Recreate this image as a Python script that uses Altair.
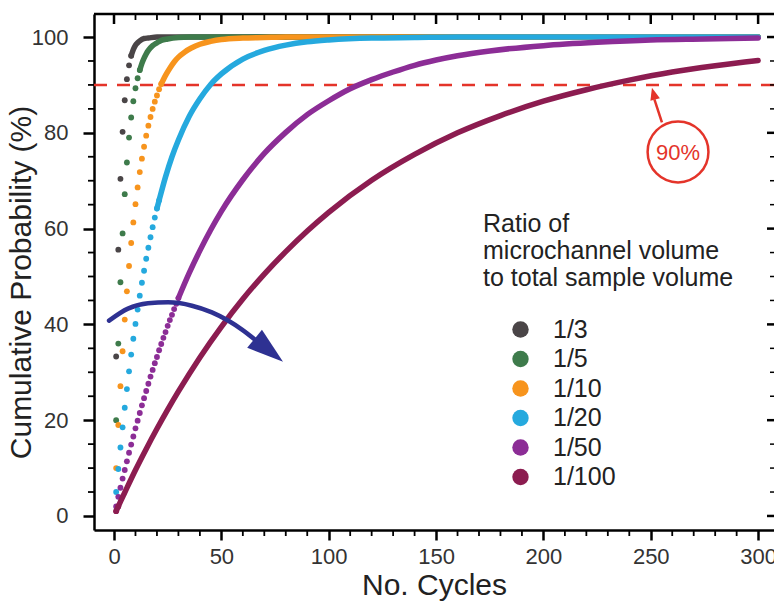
import altair as alt
import pandas as pd

# ---------------- data ----------------
ratios = ["1/3", "1/5", "1/10", "1/20", "1/50", "1/100"]
colors = ["#4a4547", "#3e7b4b", "#f7941d", "#25a9de", "#8c2d96", "#8c1c50"]

# individually visible dots
r3_dot_x = [1, 2, 3, 4, 5, 6, 7, 8]
r3_dot_y = [33.3, 55.6, 70.4, 80.2, 86.8, 91.2, 94.1, 96.1]
r5_dot_x = [1, 2, 3, 4, 5, 6, 7, 8, 9, 10, 11, 12]
r5_dot_y = [20.0, 36.0, 48.8, 59.0, 67.2, 73.8, 79.0, 83.2, 86.6, 89.3, 91.4, 93.1]
r10_dot_x = [1, 2, 3, 4, 5, 6, 7, 8, 9, 10, 11, 12, 13, 14, 15, 16, 17, 18, 19, 20, 21, 22]
r10_dot_y = [10.0, 19.0, 27.1, 34.4, 41.0, 46.9, 52.2, 57.0, 61.3, 65.1, 68.6, 71.8,
             74.6, 77.1, 79.4, 81.5, 83.3, 85.0, 86.5, 87.8, 89.1, 90.2]
r20_dot_x = [1, 2, 3, 4, 5, 6, 7, 8, 9, 10, 11, 12, 13, 14, 15, 16, 17, 18, 19, 20, 21]
r20_dot_y = [5.0, 9.8, 14.3, 18.5, 22.6, 26.5, 30.2, 33.7, 37.0, 40.1, 43.1, 46.0,
             48.7, 51.2, 53.7, 56.0, 58.2, 60.3, 62.3, 64.2, 65.9]
r50_dot_x = [1, 2, 3, 4, 5, 6, 7, 8, 9, 10, 11, 12, 13, 14, 15, 16, 17, 18, 19, 20,
             21, 22, 23, 24, 25, 26, 27, 28, 29, 30]
r50_dot_y = [2.0, 4.0, 5.9, 7.8, 9.6, 11.4, 13.2, 14.9, 16.6, 18.3, 19.9, 21.5, 23.1,
             24.6, 26.1, 27.6, 29.1, 30.5, 31.9, 33.2, 34.6, 35.9, 37.2, 38.4, 39.7,
             40.9, 42.0, 43.2, 44.3, 45.5]
r100_dot_x = [1, 2]
r100_dot_y = [1.0, 2.0]

# portions where the dots merge into a continuous curve
r3_curve_x = [8, 9, 10, 11, 12, 14, 16, 20, 300]
r3_curve_y = [96.1, 97.4, 98.3, 98.8, 99.2, 99.7, 99.8, 100.0, 100.0]
r5_curve_x = [12, 13, 14, 15, 16, 18, 20, 22, 25, 30, 35, 300]
r5_curve_y = [93.1, 94.5, 95.6, 96.5, 97.2, 98.2, 98.8, 99.3, 99.6, 99.9, 100.0, 100.0]
r10_curve_x = [22, 24, 26, 28, 30, 33, 36, 40, 45, 50, 60, 70, 80, 300]
r10_curve_y = [90.2, 92.0, 93.5, 94.8, 95.8, 96.9, 97.7, 98.5, 99.1, 99.5, 99.8, 99.9, 100.0, 100.0]
r20_curve_x = [20, 21, 24, 27, 30, 35, 40, 45, 50, 60, 70, 80, 90, 100, 120, 140, 160, 300]
r20_curve_y = [64.2, 65.9, 70.8, 75.0, 78.5, 83.4, 87.1, 90.1, 92.3, 95.4, 97.2, 98.3, 99.0,
               99.4, 99.8, 99.9, 100.0, 100.0]
r50_curve_x = [30, 35, 40, 45, 50, 60, 70, 80, 90, 100, 110, 120, 130, 140, 150, 160,
               175, 200, 225, 250, 275, 300]
r50_curve_y = [45.5, 50.7, 55.4, 59.7, 63.6, 70.2, 75.7, 80.1, 83.8, 86.7, 89.2, 91.1,
               92.7, 94.1, 95.2, 96.1, 97.1, 98.2, 98.9, 99.4, 99.6, 99.8]
r100_curve_x = [1, 2, 3, 5, 10, 15, 20, 25, 30, 40, 50, 60, 70, 80, 90, 100, 120, 140,
                160, 180, 200, 220, 240, 260, 280, 300]
r100_curve_y = [1.0, 2.0, 3.0, 4.9, 9.6, 14.0, 18.2, 22.2, 26.0, 33.1, 39.5, 45.3, 50.5,
                55.2, 59.5, 63.4, 70.1, 75.5, 80.0, 83.6, 86.6, 89.0, 91.0, 92.7, 94.0, 95.1]

# axis ticks / labels
x_major_ticks = [0, 50, 100, 150, 200, 250, 300]
x_minor_ticks = [10, 20, 30, 40, 60, 70, 80, 90, 110, 120, 130, 140, 160, 170, 180, 190,
                 210, 220, 230, 240, 260, 270, 280, 290]
y_major_ticks = [0, 20, 40, 60, 80, 100]
y_minor_ticks = [5, 10, 15, 25, 30, 35, 45, 50, 55, 65, 70, 75, 85, 90, 95]

# annotations
threshold = 90
label_90_x = [262.7]
label_90_y = [76.0]
red_shaft_x = [251.7, 255.2]
red_shaft_y = [87.0, 82.2]
red_head_x = [251.3]
red_head_y = [88.2]
blue_arrow_x = [-2.3, 6.5, 15.8, 25.2, 36.3, 45.6, 53.1, 59.6, 65.7]
blue_arrow_y = [40.8, 43.3, 44.4, 44.6, 43.9, 42.5, 40.8, 38.9, 36.8]
blue_head_x = [72.1]
blue_head_y = [34.6]

# ---------------- chart ----------------
FONT = "Liberation Sans, Arial, Helvetica, sans-serif"
W, H = 680, 516
RED = "#e4342a"
BLUE = "#2e3192"
INK = "#222222"

xs = alt.Scale(domain=[-9.32, 307.4], nice=False, zero=False)
ys = alt.Scale(domain=[-2.93, 104.81], nice=False, zero=False)
cscale = alt.Scale(domain=ratios, range=colors)

x_axis = alt.Axis(
    title="No. Cycles", values=x_major_ticks,
    tickSize=10, tickWidth=2.5,
    tickColor="black", domainColor="black", domainWidth=2.5, grid=False,
    labelFontSize=22, labelColor="#333333", labelPadding=6, labelFont=FONT,
    labelOverlap=False, labelFlush=False,
    titleFontSize=30, titleFontWeight="normal", titleColor=INK, titleFont=FONT,
    titleX=340, titleY=64, titleAlign="center", titleBaseline="alphabetic",
)
y_axis = alt.Axis(
    title="Cumulative Probability (%)", values=y_major_ticks,
    tickSize=11, tickWidth=2.5,
    tickColor="black", domainColor="black", domainWidth=2.5, grid=False,
    labelFontSize=22, labelColor="#333333", labelPadding=15, labelFont=FONT,
    labelOverlap=False, labelFlush=False,
    titleFontSize=30, titleFontWeight="normal", titleColor=INK, titleFont=FONT,
    titleAngle=270, titleX=-64, titleY=268, titleAlign="center", titleBaseline="alphabetic",
)

X = alt.X("cycle:Q", scale=xs, axis=x_axis)
Y = alt.Y("prob:Q", scale=ys, axis=y_axis)

legend = alt.Legend(
    title=["Ratio of", "microchannel volume", "to total sample volume"],
    orient="none", legendX=389, legendY=198, padding=0,
    titleFontSize=25, titleFontWeight="normal", titleColor=INK, titleFont=FONT,
    titleLineHeight=27, titlePadding=26, titleAlign="left", titleLimit=400,
    labelFontSize=25, labelColor=INK, labelFont=FONT, labelOffset=20, labelLimit=200,
    symbolType="circle", symbolSize=270, symbolOffset=25, symbolStrokeWidth=0,
    symbolOpacity=1, rowPadding=3.5,
)

series = [
    ("1/3", r3_dot_x, r3_dot_y, r3_curve_x, r3_curve_y),
    ("1/5", r5_dot_x, r5_dot_y, r5_curve_x, r5_curve_y),
    ("1/10", r10_dot_x, r10_dot_y, r10_curve_x, r10_curve_y),
    ("1/20", r20_dot_x, r20_dot_y, r20_curve_x, r20_curve_y),
    ("1/50", r50_dot_x, r50_dot_y, r50_curve_x, r50_curve_y),
    ("1/100", r100_dot_x, r100_dot_y, r100_curve_x, r100_curve_y),
]

layers = []

# red dashed 90% line
layers.append(
    alt.Chart(pd.DataFrame({"prob": [threshold]})).mark_rule(
        color=RED, strokeWidth=2.5, strokeDash=[13, 10]
    ).encode(y=alt.Y("prob:Q", scale=ys), x=alt.value(0), x2=alt.value(W))
)

for i, (name, dx, dy, cx, cy) in enumerate(series):
    ddf = pd.DataFrame({"ratio": name, "cycle": dx, "prob": dy})
    layers.append(
        alt.Chart(ddf).mark_circle(size=34, opacity=1).encode(
            x=X, y=Y, color=alt.Color("ratio:N", scale=cscale, legend=legend)
        )
    )
    cdf = pd.DataFrame({"ratio": name, "cycle": cx, "prob": cy})
    layers.append(
        alt.Chart(cdf).mark_line(strokeWidth=5.5, strokeCap="round", interpolate="monotone",
                                 color=colors[i]).encode(x=X, y=Y)
    )

# frame: top line with inward ticks, right inward ticks, outward minor ticks
layers.append(
    alt.Chart(pd.DataFrame({"cycle": [0]})).mark_rule(color="black", strokeWidth=2.5).encode(
        x=alt.value(0), x2=alt.value(W), y=alt.value(0)
    )
)
layers.append(
    alt.Chart(pd.DataFrame({"cycle": x_major_ticks})).mark_rule(color="black", strokeWidth=2.5).encode(
        x=alt.X("cycle:Q", scale=xs), y=alt.value(0), y2=alt.value(10)
    )
)
layers.append(
    alt.Chart(pd.DataFrame({"cycle": x_minor_ticks})).mark_rule(color="black", strokeWidth=1.8).encode(
        x=alt.X("cycle:Q", scale=xs), y=alt.value(0), y2=alt.value(6)
    )
)
layers.append(
    alt.Chart(pd.DataFrame({"cycle": x_minor_ticks})).mark_rule(color="black", strokeWidth=1.8).encode(
        x=alt.X("cycle:Q", scale=xs), y=alt.value(H), y2=alt.value(H + 6)
    )
)
layers.append(
    alt.Chart(pd.DataFrame({"prob": y_major_ticks})).mark_rule(color="black", strokeWidth=2.5).encode(
        y=alt.Y("prob:Q", scale=ys), x=alt.value(W), x2=alt.value(W - 7)
    )
)
layers.append(
    alt.Chart(pd.DataFrame({"prob": y_minor_ticks})).mark_rule(color="black", strokeWidth=1.5).encode(
        y=alt.Y("prob:Q", scale=ys), x=alt.value(W), x2=alt.value(W - 4)
    )
)
layers.append(
    alt.Chart(pd.DataFrame({"prob": y_minor_ticks})).mark_rule(color="black", strokeWidth=1.8).encode(
        y=alt.Y("prob:Q", scale=ys), x=alt.value(0), x2=alt.value(-6)
    )
)

# red 90% annotation
lab = pd.DataFrame({"cycle": label_90_x, "prob": label_90_y})
layers.append(
    alt.Chart(lab).mark_point(shape="circle", size=3700, filled=False, color=RED,
                              strokeWidth=2.5, opacity=1).encode(
        x=alt.X("cycle:Q", scale=xs), y=alt.Y("prob:Q", scale=ys))
)
layers.append(
    alt.Chart(lab).mark_text(text="90%", fontSize=22, color=RED, font=FONT,
                             align="center", baseline="middle", dy=1).encode(
        x=alt.X("cycle:Q", scale=xs), y=alt.Y("prob:Q", scale=ys))
)
layers.append(
    alt.Chart(pd.DataFrame({"cycle": red_shaft_x, "prob": red_shaft_y})).mark_line(
        color=RED, strokeWidth=2.5).encode(
        x=alt.X("cycle:Q", scale=xs), y=alt.Y("prob:Q", scale=ys))
)
layers.append(
    alt.Chart(pd.DataFrame({"cycle": red_head_x, "prob": red_head_y})).mark_point(
        shape="M0,-1L0.8,1L-0.8,1Z", size=150, filled=True, color=RED, opacity=1,
        angle=345).encode(
        x=alt.X("cycle:Q", scale=xs), y=alt.Y("prob:Q", scale=ys))
)

# blue curved arrow
layers.append(
    alt.Chart(pd.DataFrame({"cycle": blue_arrow_x, "prob": blue_arrow_y})).mark_line(
        color=BLUE, strokeWidth=4.5, interpolate="monotone", strokeCap="round").encode(
        x=alt.X("cycle:Q", scale=xs), y=alt.Y("prob:Q", scale=ys))
)
layers.append(
    alt.Chart(pd.DataFrame({"cycle": blue_head_x, "prob": blue_head_y})).mark_point(
        shape="M1,0L-1,-0.64L-1,0.64Z", size=1340, filled=True, color=BLUE, opacity=1,
        angle=39).encode(
        x=alt.X("cycle:Q", scale=xs), y=alt.Y("prob:Q", scale=ys))
)

chart = alt.layer(*layers).properties(
    width=W, height=H,
    autosize=alt.AutoSizeParams(type="none"),
    padding={"left": 94, "top": 14, "right": 0, "bottom": 71},
    background="white",
).configure_view(stroke=None).configure(font=FONT)

chart.save("out.html", embed_options={"renderer": "svg", "actions": False})
